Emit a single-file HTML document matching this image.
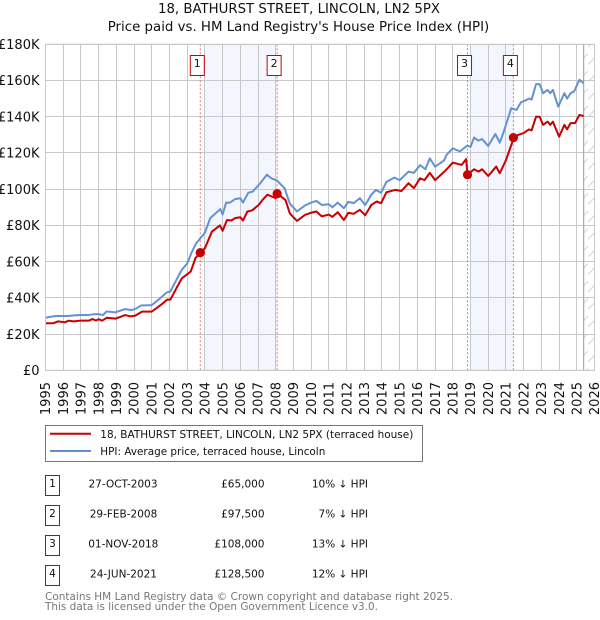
<!DOCTYPE html>
<html><head><meta charset="utf-8">
<style>
html,body{margin:0;padding:0;background:#fff;width:600px;height:620px;overflow:hidden}
svg{display:block}
text{font-family:"DejaVu Sans","Liberation Sans",sans-serif;fill:#111}
</style></head>
<body>
<svg id="chart" width="600" height="620" viewBox="0 0 600 620" xmlns="http://www.w3.org/2000/svg">
<defs>
<pattern id="hatch" patternUnits="userSpaceOnUse" width="10.5" height="17.5" >
<path d="M0 12 L10.5 1 M0 29.5 L10.5 18.5 M0 -5.5 L10.5 -16.5" stroke="#d4d4d4" stroke-width="1" fill="none"/>
</pattern>
</defs>
<text x="299" y="13" text-anchor="middle" font-size="13" textLength="282" lengthAdjust="spacingAndGlyphs">18, BATHURST STREET, LINCOLN, LN2 5PX</text>
<text x="298.5" y="31" text-anchor="middle" font-size="13" textLength="381.5" lengthAdjust="spacingAndGlyphs">Price paid vs. HM Land Registry's House Price Index (HPI)</text>
<g id="plot"></g>

<g>
<rect x="45.5" y="425.5" width="377" height="36" fill="#fff" stroke="#777" stroke-width="1"/>
<line x1="50" x2="91" y1="433.8" y2="433.8" stroke="#c00" stroke-width="2"/>
<text x="100.3" y="438" font-size="11" textLength="313" lengthAdjust="spacingAndGlyphs">18, BATHURST STREET, LINCOLN, LN2 5PX (terraced house)</text>
<line x1="50" x2="91" y1="451" y2="451" stroke="#5f8fd0" stroke-width="2"/>
<text x="100.3" y="455" font-size="11" textLength="225" lengthAdjust="spacingAndGlyphs">HPI: Average price, terraced house, Lincoln</text>
</g>

<g font-size="10.5">
<g>
<rect x="45.5" y="475.5" width="14" height="20" fill="#fff" stroke="#c00" stroke-width="1"/>
<text x="52.5" y="487" text-anchor="middle">1</text>
<text x="123" y="487.3" text-anchor="middle">27-OCT-2003</text>
<text x="264.5" y="487.3" text-anchor="end">£65,000</text>
<text x="368" y="487.3" text-anchor="end">10% ↓ HPI</text>
</g>
<g>
<rect x="45.5" y="505.5" width="14" height="20" fill="#fff" stroke="#c00" stroke-width="1"/>
<text x="52.5" y="517" text-anchor="middle">2</text>
<text x="123.5" y="517.3" text-anchor="middle">29-FEB-2008</text>
<text x="264.5" y="517.3" text-anchor="end">£97,500</text>
<text x="368" y="517.3" text-anchor="end">7% ↓ HPI</text>
</g>
<g>
<rect x="45.5" y="535.5" width="14" height="20" fill="#fff" stroke="#c00" stroke-width="1"/>
<text x="52.5" y="547" text-anchor="middle">3</text>
<text x="123.3" y="547.3" text-anchor="middle">01-NOV-2018</text>
<text x="264.5" y="547.3" text-anchor="end">£108,000</text>
<text x="368" y="547.3" text-anchor="end">13% ↓ HPI</text>
</g>
<g>
<rect x="45.5" y="565.5" width="14" height="20" fill="#fff" stroke="#c00" stroke-width="1"/>
<text x="52.5" y="577" text-anchor="middle">4</text>
<text x="123.5" y="577.3" text-anchor="middle">24-JUN-2021</text>
<text x="264.5" y="577.3" text-anchor="end">£128,500</text>
<text x="368" y="577.3" text-anchor="end">12% ↓ HPI</text>
</g>
</g>

<text x="45" y="600" font-size="11" style="fill:#777" textLength="408" lengthAdjust="spacingAndGlyphs">Contains HM Land Registry data © Crown copyright and database right 2025.</text>
<text x="45" y="610" font-size="11" style="fill:#777" textLength="333" lengthAdjust="spacingAndGlyphs">This data is licensed under the Open Government Licence v3.0.</text>
</svg>

<script>
const yearTicks = [1995,1996,1997,1998,1999,2000,2001,2002,2003,2004,2005,2006,2007,2008,2009,2010,2011,2012,2013,2014,2015,2016,2017,2018,2019,2020,2021,2022,2023,2024,2025,2026];
const valueTicks = [0,20,40,60,80,100,120,140,160,180];
const valueLabels = ['£0','£20K','£40K','£60K','£80K','£100K','£120K','£140K','£160K','£180K'];

const hpiYears = [1995,1995.3,1995.6,1996,1996.3,1996.6,1997,1997.4,1997.8,1998,1998.25,1998.45,1998.95,1999.5,1999.85,2000.1,2000.4,2001,2001.5,2001.85,2002.05,2002.45,2002.7,2003,2003.25,2003.5,2003.75,2004,2004.3,2004.87,2005,2005.2,2005.4,2005.7,2006,2006.15,2006.45,2006.7,2007.1,2007.5,2007.75,2008.07,2008.5,2008.8,2009.2,2009.65,2010,2010.3,2010.6,2011,2011.2,2011.5,2011.85,2012.1,2012.4,2012.75,2013.05,2013.4,2013.65,2013.95,2014.25,2014.7,2015,2015.5,2015.8,2016.15,2016.45,2016.7,2017,2017.5,2017.65,2018,2018.4,2018.8,2019,2019.2,2019.45,2019.65,2020,2020.4,2020.65,2020.85,2021.3,2021.6,2021.85,2022.1,2022.3,2022.45,2022.7,2022.9,2023.1,2023.35,2023.5,2023.65,2023.95,2024.3,2024.45,2024.65,2024.85,2025.15,2025.38];
const hpiValues = [29,29.6,30,30,30,30.3,30.5,30.5,31,31,30.5,32.5,32,33.8,33.2,34,35.8,36,40,43,43.5,51,55.5,59,65,70,73,76,84,89,86,92.6,92.5,94.5,95,92.6,98,98.7,103,108,106,104.8,100.5,92,87.7,91,92.6,93.5,91.3,91.7,90,92.6,89.5,93,92.3,95,91.3,96.9,99.6,98,104,106.4,105,109.7,109,113.3,111,117,112.4,115.8,119,122.6,120.8,124,123.4,128.5,126.8,127.7,123.9,130.5,125.7,131,144.7,143.8,148,149,150,149.5,158,158,153,154.8,153,154.8,145.6,153,150,153,154,160.4,158.5];

const priceYears = [1995,1995.45,1995.7,1996.1,1996.3,1996.6,1997,1997.45,1997.65,1997.85,1998,1998.2,1998.45,1998.95,1999.5,1999.8,2000.07,2000.45,2001,2001.5,2001.87,2002.05,2002.43,2002.7,2003.2,2003.47,2003.75,2004,2004.4,2004.85,2005,2005.25,2005.5,2005.7,2006,2006.15,2006.4,2006.65,2007.05,2007.25,2007.53,2008,2008.1,2008.55,2008.8,2009.2,2009.65,2010,2010.3,2010.6,2011,2011.2,2011.5,2011.85,2012.1,2012.4,2012.75,2013.05,2013.4,2013.7,2013.95,2014.25,2014.75,2015.1,2015.5,2015.8,2016.15,2016.4,2016.7,2017,2017.55,2017.75,2018,2018.5,2018.75,2018.83,2019.2,2019.45,2019.65,2020,2020.45,2020.65,2021,2021.45,2021.7,2022,2022.3,2022.45,2022.7,2022.9,2023.1,2023.35,2023.5,2023.65,2024,2024.3,2024.45,2024.65,2024.9,2025.15,2025.38];
const priceValues = [26,26,27,26.5,27.4,27,27.4,27.4,28.3,27.5,28.2,27.4,29,28.5,30.5,29.8,30.2,32.4,32.4,36,39,39,46,50.8,54.5,62,65,67.4,76.6,80,77,83,82.7,84,84.5,82.7,87.7,88.2,91.4,94,97,95,97.5,94,86.6,82.5,85.8,87,87.7,85,86,84.7,87.3,83,87,86.4,88.6,85.6,91.3,93.2,92.3,98.3,99.6,99,103.3,100.6,106,105,109,105,110,112,114.7,113.4,116.6,108,111,109.7,111,107.3,112.5,108.8,116,128.5,130,131,133,132.5,140,140,135.5,137.3,135.5,137.3,129,135.5,133,136.5,136.5,141,140.4];

const saleLabels = ['1','2','3','4'];
const saleYears = [2003.74,2008.08,2018.83,2021.42];
const saleValues = [65,97.5,108,128.5];
const shadeStarts = [2004,2019];
const shadeEnds = [2008.08,2021.42];
const dataEndYear = 2025.39;

const NS = 'http://www.w3.org/2000/svg';
const plot = document.getElementById('plot');
const X0 = 45.5, X1 = 594.5, Y0 = 370.3, Y1 = 44.3;
function xAxis(year){ return X0 + (year - 1995) * (X1 - X0) / 31; }
function yAxis(k){ return Y0 - k * (Y0 - Y1) / 180; }
function mk(tag, attrs, parent){
  const el = document.createElementNS(NS, tag);
  for (const k in attrs) el.setAttribute(k, attrs[k]);
  (parent || plot).appendChild(el);
  return el;
}
function pathFrom(xs, ys){
  return xs.map((v, i) => (i ? 'L' : 'M') + xAxis(v).toFixed(2) + ' ' + yAxis(ys[i]).toFixed(2)).join(' ');
}

// shaded hold periods
shadeStarts.forEach((s, i) => {
  const el = mk('rect', {x: xAxis(s), y: Y1, width: xAxis(shadeEnds[i]) - xAxis(s), height: Y0 - Y1, fill: '#f3f6fe'});
  
  
});

// grid
yearTicks.forEach(y => {
  const px = Math.round(xAxis(y) - 0.5) + 0.5;
  const el = mk('line', {x1: px, x2: px, y1: Y1, y2: Y0, stroke: '#c8c8c8', 'stroke-width': 1});
  
  
  const t = mk('text', {transform: 'translate(' + (xAxis(y) + 4.7) + ',382) rotate(-90)', 'text-anchor': 'end', 'font-size': 13});
  t.textContent = y;
  
  
});
valueTicks.forEach((v, i) => {
  const py = Math.round(yAxis(v) - 0.5) + 0.5;
  const el = mk('line', {x1: X0, x2: X1, y1: py, y2: py, stroke: '#c8c8c8', 'stroke-width': 1});
  
  
  const t = mk('text', {x: 39.5, y: yAxis(v) + 4.7, 'text-anchor': 'end', 'font-size': 13});
  t.textContent = valueLabels[i];
  
  
});

// forecast hatch + data end line
const hatch = mk('rect', {x: xAxis(dataEndYear), y: Y1, width: X1 - xAxis(dataEndYear), height: Y0 - Y1, fill: 'url(#hatch)'});


const endLine = mk('line', {x1: xAxis(dataEndYear), x2: xAxis(dataEndYear), y1: Y1, y2: Y0, stroke: '#999', 'stroke-width': 1});



// sale guide lines
saleYears.forEach(y => {
  const el = mk('line', {x1: xAxis(y), x2: xAxis(y), y1: Y1, y2: Y0, stroke: '#f07070', 'stroke-width': 1, 'stroke-dasharray': '2 2'});
  
  
});

// series
const hpiLine = mk('path', {d: pathFrom(hpiYears, hpiValues), fill: 'none', stroke: '#6491d2', 'stroke-width': 2, 'stroke-linejoin': 'round'});


const priceLine = mk('path', {d: pathFrom(priceYears, priceValues), fill: 'none', stroke: '#c80000', 'stroke-width': 2, 'stroke-linejoin': 'round'});



// sale markers + badges
saleYears.forEach((y, i) => {
  const c = mk('circle', {cx: xAxis(y), cy: yAxis(saleValues[i]), r: 4.6, fill: '#c80000'});
  
  
  const cx = xAxis(y) - 3;
  const r = mk('rect', {x: cx - 7, y: 55.5, width: 14, height: 20, fill: '#fff', stroke: '#c00', 'stroke-width': 1});
  
  
  const t = mk('text', {x: cx, y: 67, 'text-anchor': 'middle', 'font-size': 11});
  t.textContent = saleLabels[i];
  
  
});

// frame
const frame = mk('rect', {x: X0, y: Y1, width: X1 - X0, height: Y0 - Y1, fill: 'none', stroke: '#c8c8c8', 'stroke-width': 1});


</script>
</body></html>
